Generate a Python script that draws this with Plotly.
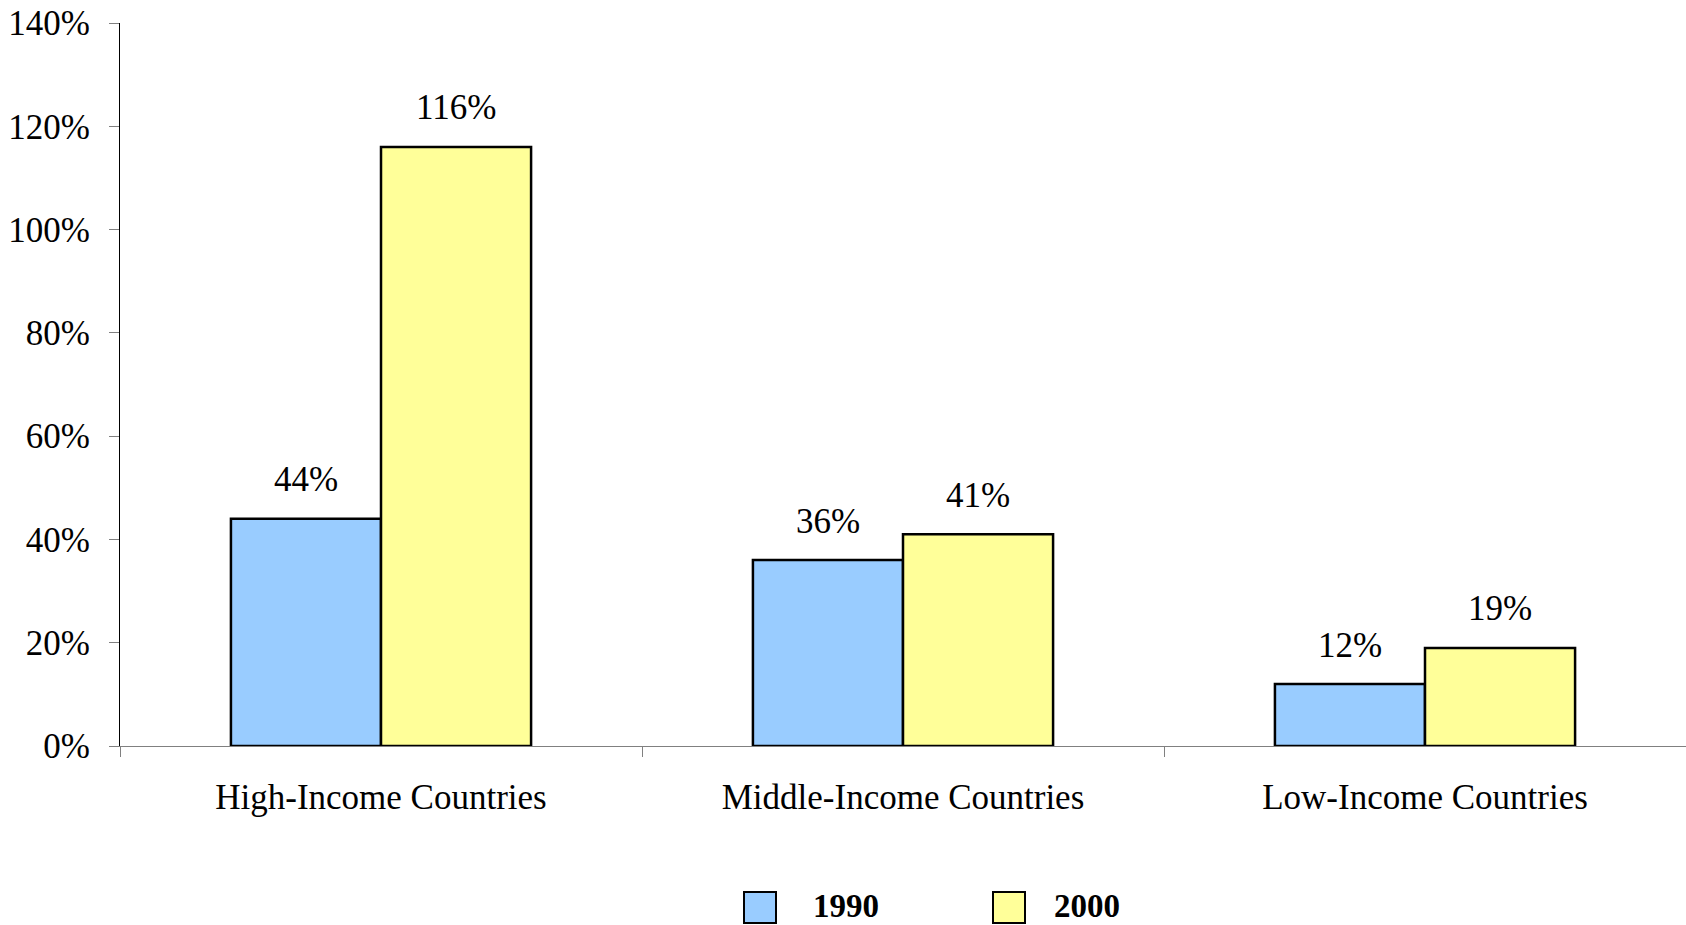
import plotly.graph_objects as go

# Data
categories = ["High-Income Countries", "Middle-Income Countries", "Low-Income Countries"]
years = ["1990", "2000"]
values_1990 = [44, 36, 12]
values_2000 = [116, 41, 19]
y_ticks = [0, 20, 40, 60, 80, 100, 120, 140]

colors = {"1990": "#99CCFF", "2000": "#FFFF99"}
FONT = "Liberation Serif, Times New Roman, serif"

W, H = 1686, 925
M_L, M_R, M_T, M_B = 120, 0, 23, 179
BARGAP = 0.425

plot_w = W - M_L - M_R
plot_h = H - M_T - M_B
bar_px = plot_w / len(categories) * (1 - BARGAP) / 2

fig = go.Figure()
for name, vals in zip(years, [values_1990, values_2000]):
    fig.add_trace(go.Bar(
        x=categories, y=vals, name=name,
        marker=dict(color=colors[name], line=dict(color="#000000", width=2.5)),
        showlegend=False,
    ))

# Value labels above each bar
annotations = []
for k, (name, vals) in enumerate(zip(years, [values_1990, values_2000])):
    shift = (k - 0.5) * bar_px
    for cat, v in zip(categories, vals):
        annotations.append(dict(
            x=cat, y=v, xref="x", yref="y", text=f"{v}%", showarrow=False,
            xshift=shift, yshift=39, yanchor="middle",
            font=dict(family=FONT, size=35, color="#000000"),
        ))

# Legend drawn below the axis
shapes = []
legend_items = [("1990", 744, 812), ("2000", 993, 1053)]
for name, box_x, text_x in legend_items:
    x0 = (box_x - M_L) / plot_w
    x1 = (box_x + 32 - M_L) / plot_w
    y0 = (H - M_B - 923) / plot_h
    y1 = (H - M_B - 892) / plot_h
    shapes.append(dict(type="rect", xref="paper", yref="paper",
                       x0=x0, x1=x1, y0=y0, y1=y1,
                       fillcolor=colors[name], line=dict(color="#000000", width=2)))
    annotations.append(dict(
        x=(text_x - M_L) / plot_w, y=(H - M_B - 925) / plot_h,
        xref="paper", yref="paper", text=f"<b>{name}</b>", showarrow=False,
        xanchor="left", yanchor="bottom", borderpad=0,
        font=dict(family=FONT, size=33, color="#000000"),
    ))

fig.update_layout(
    width=W, height=H,
    margin=dict(l=M_L, r=M_R, t=M_T, b=M_B, pad=0),
    paper_bgcolor="#FFFFFF", plot_bgcolor="#FFFFFF",
    barmode="group", bargap=BARGAP, bargroupgap=0,
    font=dict(family=FONT, size=35, color="#000000"),
    annotations=annotations, shapes=shapes,
)
fig.update_xaxes(
    showgrid=False, zeroline=False,
    showline=True, linecolor="#808080", linewidth=1,
    ticks="outside", ticklen=10, tickcolor="#808080", tickson="boundaries",
    tickfont=dict(family=FONT, size=35, color="#000000"),
    ticklabelstandoff=20,
)
fig.update_yaxes(
    range=[0, 140], tickvals=y_ticks, ticktext=[f"{t}%" for t in y_ticks],
    showgrid=False, zeroline=False,
    showline=True, linecolor="#000000", linewidth=1,
    ticks="outside", ticklen=10, tickcolor="#808080",
    tickfont=dict(family=FONT, size=35, color="#000000"),
    ticklabelstandoff=12,
)

fig.write_html("out.html")
